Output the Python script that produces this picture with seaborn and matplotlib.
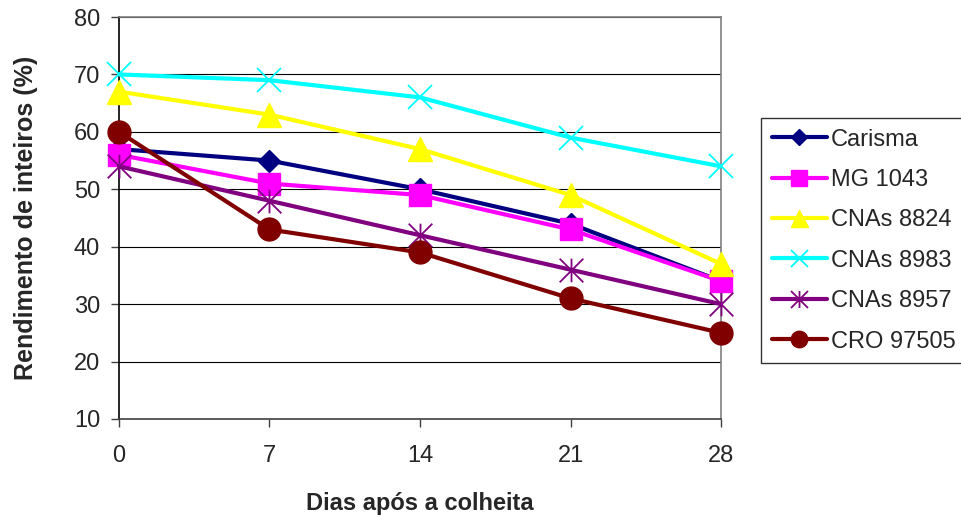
import matplotlib
matplotlib.use("Agg")
import matplotlib.pyplot as plt
from matplotlib.path import Path
import seaborn as sns

days = [0, 7, 14, 21, 28]
carisma = [57, 55, 50, 44, 34]
mg_1043 = [56, 51, 49, 43, 34]
cnas_8824 = [67, 63, 57, 49, 37]
cnas_8983 = [70, 69, 66, 59, 54]
cnas_8957 = [54, 48, 42, 36, 30]
cro_97505 = [60, 43, 39, 31, 25]
y_ticks = [10, 20, 30, 40, 50, 60, 70, 80]

sns.set_theme(style="white")
plt.rcParams["font.family"] = ["Liberation Sans", "DejaVu Sans"]

# Asterisk marker: vertical stroke plus an X
asterisk = Path(
    [(0, -0.5), (0, 0.5), (-0.5, -0.5), (0.5, 0.5), (-0.5, 0.5), (0.5, -0.5)],
    [Path.MOVETO, Path.LINETO] * 3,
)

series = [
    ("Carisma", carisma, "#000080", "D", 11.5, 1.0),
    ("MG 1043", mg_1043, "#FF00FF", "s", 15.5, 1.0),
    ("CNAs 8824", cnas_8824, "#FFFF00", "^", 17, 1.0),
    ("CNAs 8983", cnas_8983, "#00FFFF", "x", 17, 1.3),
    ("CNAs 8957", cnas_8957, "#800080", asterisk, 17, 1.3),
    ("CRO 97505", cro_97505, "#800000", "o", 16.5, 1.0),
]

fig = plt.figure(figsize=(9.61, 5.17), dpi=100)
ax = fig.add_axes([0.1238, 0.1896, 0.6265, 0.7775])

for name, vals, color, marker, ms, mew in series:
    sns.lineplot(
        x=days, y=vals, ax=ax, color=color, linewidth=3.0,
        marker=marker, markersize=ms, markeredgecolor=color,
        markerfacecolor=color, markeredgewidth=mew,
        label=name, clip_on=False, zorder=3,
    )

ax.set_xlim(0, 28)
ax.set_ylim(10, 80)
ax.set_xticks(days)
ax.set_xticklabels([str(d) for d in days])
ax.set_yticks(y_ticks)

ax.grid(axis="y", color="black", linewidth=0.8)
ax.grid(axis="x", visible=False)
ax.set_axisbelow(True)

for side in ("top", "right"):
    ax.spines[side].set_color("#808080")
    ax.spines[side].set_linewidth(1.2)
ax.spines["left"].set_color("black")
ax.spines["bottom"].set_color("#404040")
for side in ("left", "bottom"):
    ax.spines[side].set_linewidth(1.2)

ax.tick_params(axis="both", which="major", direction="out", length=5.5,
               width=1.0, color="#404040", labelsize=17,
               left=True, bottom=True)
ax.tick_params(axis="x", pad=13)
ax.tick_params(axis="y", pad=8)

ax.set_xlabel("Dias após a colheita", fontsize=17, fontweight="bold", labelpad=18)
ax.set_ylabel("Rendimento de inteiros (%)", fontsize=18, fontweight="bold", labelpad=26)

leg = ax.legend(
    loc="upper left", bbox_to_anchor=(0.792, 0.772),
    bbox_transform=fig.transFigure, frameon=True, fancybox=False,
    edgecolor="black", fontsize=17, handlelength=2.33, handletextpad=0.17,
    labelspacing=0.78, borderpad=0.45, borderaxespad=0, markerscale=0.72,
)
leg.get_frame().set_linewidth(1.0)

fig.savefig("out.png", dpi=100)
